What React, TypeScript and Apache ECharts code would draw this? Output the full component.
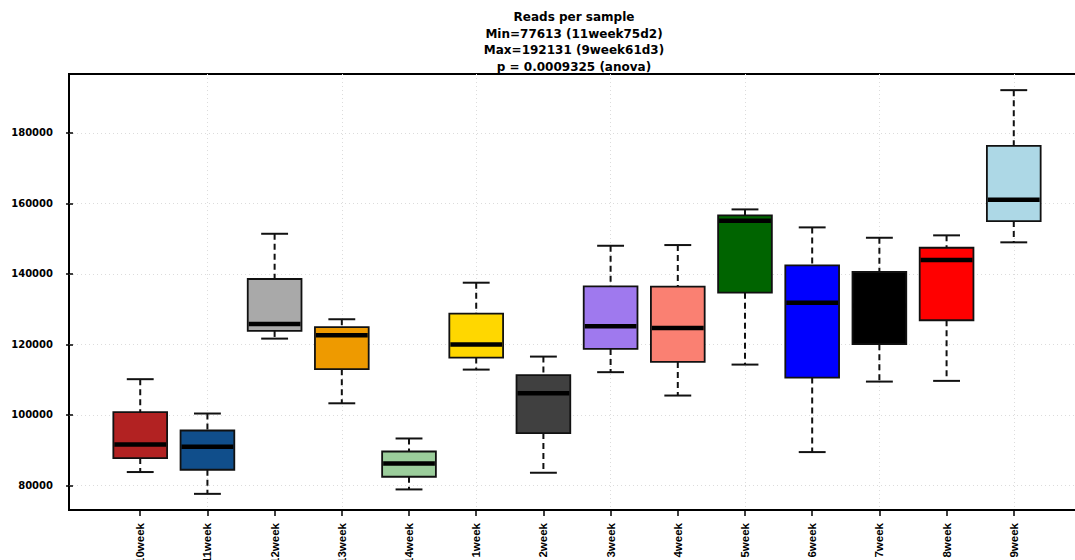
import React, { useEffect, useRef } from "react";
import * as echarts from "echarts";

const categories = ["10week", "11week", "12week", "13week", "14week", "1week", "2week", "3week", "4week", "5week", "6week", "7week", "8week", "9week"];
const whiskerLow = [83800, 77613, 121650, 103300, 78870, 112860, 83600, 112130, 105500, 114280, 89460, 109460, 109660, 148960];
const q1 = [87760, 84450, 123830, 112980, 82460, 116260, 94850, 118730, 115040, 134680, 110600, 120060, 126860, 154990];
const median = [91620, 90960, 125810, 122610, 86230, 119950, 106180, 125160, 124680, 155080, 131840, 131000, 143940, 161020];
const q3 = [100790, 95580, 138560, 124880, 89630, 128730, 111280, 136490, 136380, 156600, 142440, 140540, 147430, 176320];
const whiskerHigh = [110140, 100400, 151390, 127140, 93320, 137510, 116550, 147990, 148190, 158300, 153200, 150260, 150940, 192131];
const yTicks = [80000, 100000, 120000, 140000, 160000, 180000];
const xGridAt = [2, 4, 6, 8, 10, 12, 14];
const titleLines = ["Reads per sample", "Min=77613 (11week75d2)", "Max=192131 (9week61d3)", "p = 0.0009325 (anova)"];

const boxColors = ["#B22222", "#104E8B", "#A9A9A9", "#EE9A00", "#9BCD9B", "#FFD700", "#404040", "#9F79EE", "#FA8072", "#006400", "#0000FF", "#000000", "#FF0000", "#ADD8E6"];

export default function App() {
  const ref = useRef<HTMLDivElement>(null);
  useEffect(() => {
    if (!ref.current) return;
    const chart = echarts.init(ref.current, null, { renderer: "svg" });
    const n = categories.length;
    const xMin = 0.5 - 0.04 * n;
    const xMax = n + 0.5 + 0.04 * n;
    const dMin = Math.min(...whiskerLow);
    const dMax = Math.max(...whiskerHigh);
    const yMin = dMin - 0.04 * (dMax - dMin);
    const yMax = dMax + 0.04 * (dMax - dMin);
    const data = categories.map((_, i) => [i + 1, whiskerLow[i], q1[i], median[i], q3[i], whiskerHigh[i]]);

    chart.setOption({
      animation: false,
      backgroundColor: "#fff",
      title: {
        text: titleLines.join("\n"),
        left: 574,
        top: 9,
        padding: 0,
        textAlign: "center",
        textStyle: { fontFamily: "DejaVu Sans", fontWeight: "bold", fontSize: 12, lineHeight: 16.5, color: "#000" },
      },
      grid: {
        left: 69,
        right: -10,
        top: 74,
        bottom: 50,
        containLabel: false,
        outerBoundsMode: "none",
        show: true,
        borderColor: "#000",
        borderWidth: 2,
        backgroundColor: "transparent",
      },
      xAxis: [
        {
          type: "value",
          min: xMin,
          max: xMax,
          position: "bottom",
          axisLine: { show: false },
          axisTick: { show: true, length: 6, lineStyle: { color: "#000", width: 1.5 }, customValues: categories.map((_, i) => i + 1) },
          axisLabel: {
            customValues: categories.map((_, i) => i + 1),
            rotate: 90,
            margin: 13,
            hideOverlap: false,
            fontFamily: "Liberation Sans",
            fontWeight: "bold",
            fontSize: 11.5,
            color: "#000",
            formatter: (v: number) => categories[Math.round(v) - 1] ?? "",
          },
          splitLine: { show: false },
        },
        {
          type: "value",
          min: xMin,
          max: xMax,
          position: "top",
          axisLine: { show: false },
          axisTick: { show: false, customValues: xGridAt },
          axisLabel: { show: false },
          splitLine: { show: true, lineStyle: { color: "#dcdcdc", type: [1, 3], width: 1 } },
        },
      ],
      yAxis: {
        type: "value",
        min: yMin,
        max: yMax,
        axisLine: { show: false },
        axisTick: { show: true, length: 7, lineStyle: { color: "#000", width: 1.5 }, customValues: yTicks },
        axisLabel: {
          customValues: yTicks,
          margin: 16,
          fontFamily: "DejaVu Sans",
          fontWeight: "bold",
          fontSize: 10,
          color: "#000",
          formatter: (v: number) => String(v),
        },
        splitLine: { show: true, lineStyle: { color: "#dcdcdc", type: [1, 3], width: 1 } },
      },
      series: [
        {
          type: "custom",
          xAxisIndex: 0,
          yAxisIndex: 0,
          data,
          encode: { x: 0, y: [1, 2, 3, 4, 5] },
          renderItem: (params: any, api: any) => {
            const x = api.value(0);
            const lo = api.coord([x, api.value(1)]);
            const b1 = api.coord([x, api.value(2)]);
            const md = api.coord([x, api.value(3)]);
            const b3 = api.coord([x, api.value(4)]);
            const hi = api.coord([x, api.value(5)]);
            const bw = api.size([0.8, 0])[0];
            const cx = lo[0];
            const cw = bw / 4;
            const dash = { stroke: "#111", lineWidth: 2, lineDash: [6, 4] };
            const solid = { stroke: "#111", lineWidth: 2 };
            return {
              type: "group",
              children: [
                { type: "line", shape: { x1: cx, y1: hi[1], x2: cx, y2: b3[1] }, style: dash },
                { type: "line", shape: { x1: cx, y1: b1[1], x2: cx, y2: lo[1] }, style: dash },
                { type: "line", shape: { x1: cx - cw, y1: hi[1], x2: cx + cw, y2: hi[1] }, style: solid },
                { type: "line", shape: { x1: cx - cw, y1: lo[1], x2: cx + cw, y2: lo[1] }, style: solid },
                {
                  type: "rect",
                  shape: { x: cx - bw / 2, y: b3[1], width: bw, height: b1[1] - b3[1] },
                  style: { fill: boxColors[params.dataIndex], stroke: "#111", lineWidth: 1.8 },
                },
                { type: "line", shape: { x1: cx - bw / 2 + 1, y1: md[1], x2: cx + bw / 2 - 1, y2: md[1] }, style: { stroke: "#000", lineWidth: 4.5 } },
              ],
            };
          },
        },
      ],
    });
    return () => chart.dispose();
  }, []);
  return <div ref={ref} style={{ position: "absolute", left: 0, top: 0, width: 1075, height: 560 }} />;
}
